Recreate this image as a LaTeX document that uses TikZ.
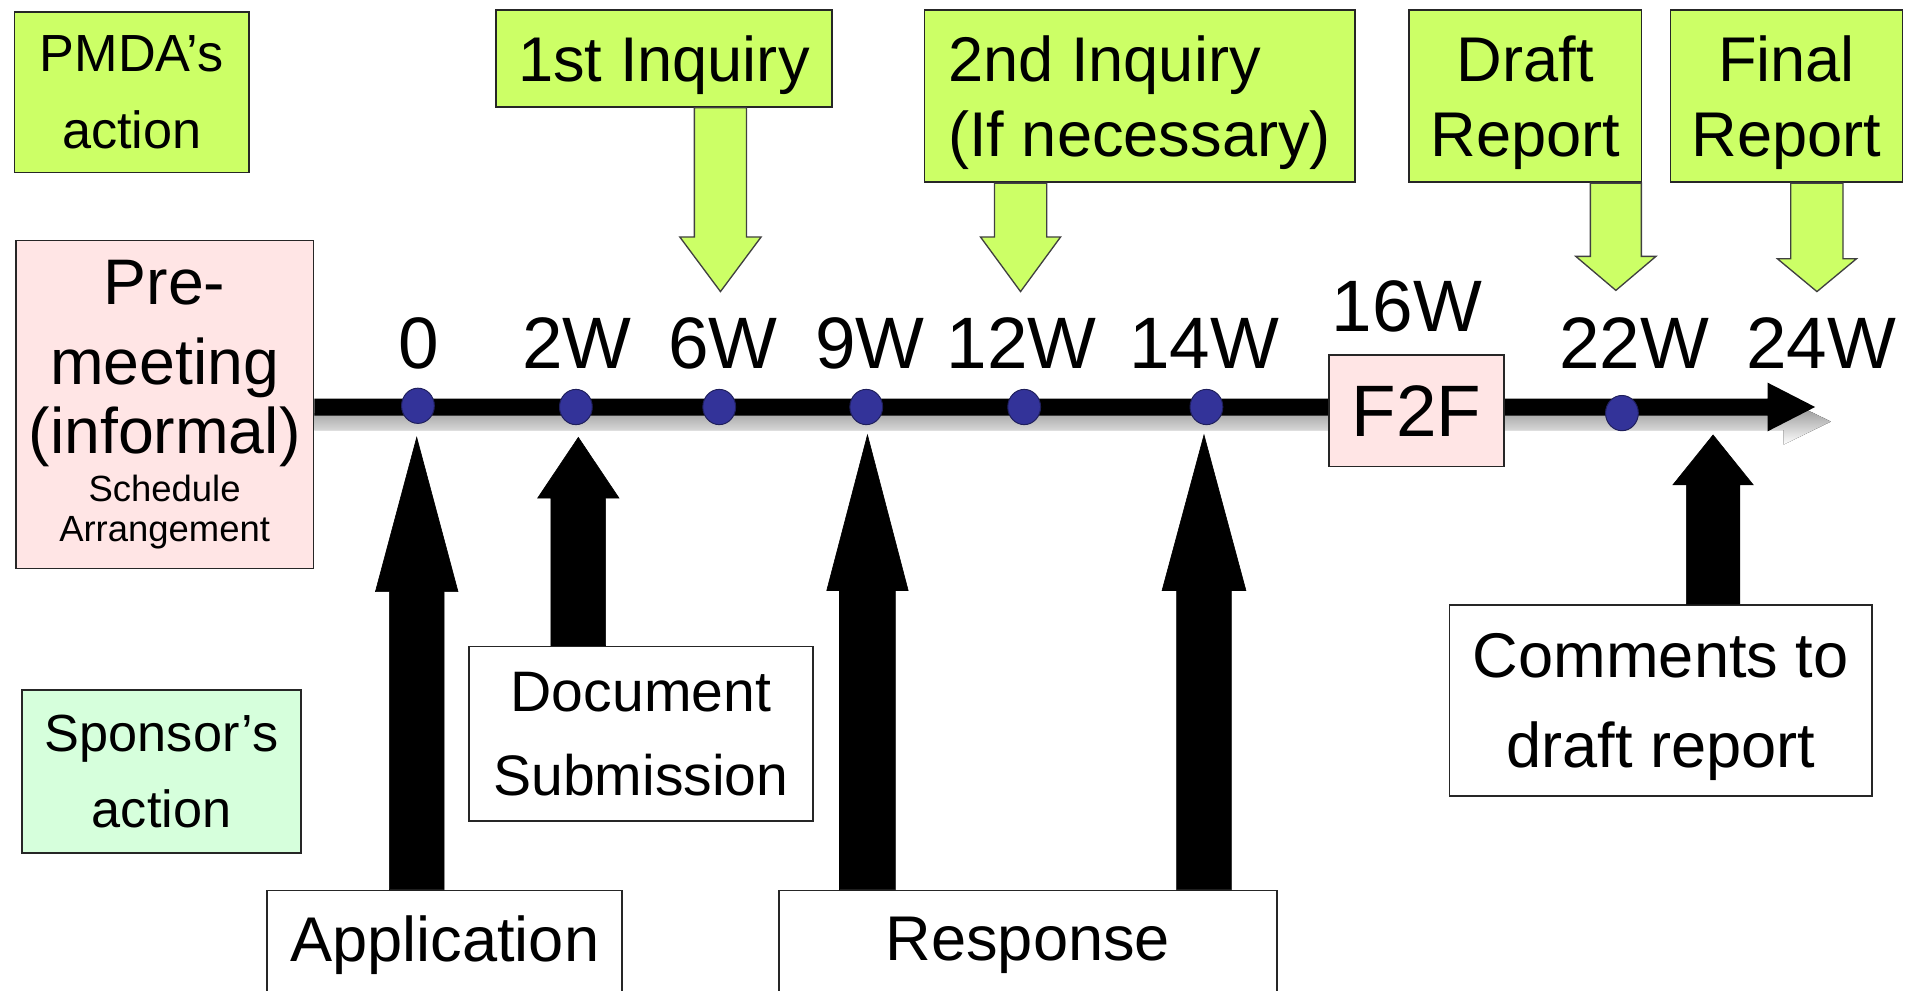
\documentclass[tikz,border=0pt]{standalone}
\usepackage{fontspec}
\setmainfont{Liberation Sans}
\usetikzlibrary{calc,shapes.geometric}

\definecolor{lime}{HTML}{CCFF66}
\definecolor{blush}{HTML}{FFE5E5}
\definecolor{mint}{HTML}{D6FFDC}
\definecolor{dotblue}{HTML}{333399}
\definecolor{shade}{HTML}{C4C4C4}

\newcommand\setfs[2]{\fontsize{#1}{#2}\selectfont}

% vertical block arrow: style, start point (gives y), tip point (gives x and y),
% signed head length, shaft half width, head half width
\newcommand\blockarrow[6]{%
  \draw[#1] let \p1=(#2), \p2=(#3) in
    (\x2-#5,\y1) -- (\x2-#5,\y2+#4) -- (\x2-#6,\y2+#4) -- (\x2,\y2)
    -- (\x2+#6,\y2+#4) -- (\x2+#5,\y2+#4) -- (\x2+#5,\y1) -- cycle;}

% horizontal block arrow: style, start point (gives x), tip point,
% head length, shaft half width, head half width
\newcommand\flatarrow[6]{%
  \fill[#1] let \p1=(#2), \p2=(#3) in
    (\x1,\y2+#5) -- (\x2-#4,\y2+#5) -- (\x2-#4,\y2+#6) -- (\x2,\y2)
    -- (\x2-#4,\y2-#6) -- (\x2-#4,\y2-#5) -- (\x1,\y2-#5) -- cycle;}

\begin{document}
\begin{tikzpicture}[x=1pt,y=-1pt,
  box/.style={draw=black!85, line width=1.4pt, inner sep=0pt, align=center},
  limebox/.style={box, fill=lime},
  pinkbox/.style={box, fill=blush},
  mintbox/.style={box, fill=mint},
  plainbox/.style={box, fill=white},
  flat/.style={text depth=0pt},
  greenarrow/.style={fill=lime, draw=black!75, line width=1.1pt, line join=miter},
  blackarrow/.style={fill=black, draw=black, line width=0.5pt, line join=miter},
  dot/.style={ellipse, fill=dotblue, draw=dotblue!60!black, line width=0.8pt,
    minimum width=27pt, minimum height=29pt, inner sep=0pt},
  tick/.style={anchor=base, inner sep=0pt, font=\setfs{60}{66}},
]
\clip (0,0) rectangle (1568,815);

% ---- boxes that carry the arrows' ends ----
\node[pinkbox, minimum width=245pt, minimum height=270pt, text width=245pt] (pre) at (135.5,333)
  {\vspace*{8pt}\setfs{53}{57.5}Pre-\\meeting\\(informal)\par\vspace{6pt}\setfs{30}{33}Schedule\\Arrangement\par};

% ---- time line with its shadow ----
\coordinate (tEnd) at (1494,335);
\coordinate (tStart) at (pre.east |- tEnd);
\coordinate (sEnd) at ([shift={(13pt,-12pt)}]tEnd);
\flatarrow{shade}{tStart}{sEnd}{39pt}{7pt}{19pt}
\flatarrow{black}{tStart}{tEnd}{39pt}{7pt}{20pt}

% ---- PMDA side ----
\node[limebox, minimum width=193pt, minimum height=132pt, font={\setfs{43}{63}}] (pmda) at (108.5,76) {PMDA’s\\action};
\node[limebox, flat, minimum width=277pt, minimum height=80pt, font={\setfs{52}{62}}] (inq1) at (546.5,48) {1st Inquiry};
\node[limebox, flat, minimum width=354pt, minimum height=142pt, font={\setfs{52}{62}}, align=left] (inq2) at (938,79) {2nd Inquiry\\(If necessary)};
\node[limebox, flat, minimum width=191pt, minimum height=142pt, font={\setfs{52}{62}}] (draft) at (1255.5,79) {Draft\\Report};
\node[limebox, flat, minimum width=191pt, minimum height=142pt, font={\setfs{52}{62}}] (final) at (1470.5,79) {Final\\Report};

\coordinate (tI1) at (593,240);
\coordinate (tI2) at (840,240);
\coordinate (tDr) at (1330,239);
\coordinate (tFi) at (1495.5,240);
\blockarrow{greenarrow}{inq1.south}{tI1}{45pt}{21.5pt}{33.5pt}
\blockarrow{greenarrow}{inq2.south}{tI2}{45pt}{21.5pt}{33pt}
\blockarrow{greenarrow}{draft.south}{tDr}{28pt}{21pt}{33pt}
\blockarrow{greenarrow}{final.south}{tFi}{27pt}{21.5pt}{32.5pt}

% ---- sponsor side ----
\node[mintbox, minimum width=230pt, minimum height=134pt, font={\setfs{43}{62}}] (sponsor) at (133,635) {Sponsor’s\\action};
\node[plainbox, minimum width=283pt, minimum height=144pt, font={\setfs{47}{69}}] (doc) at (527.5,604) {Document\\Submission};
\node[plainbox, minimum width=292pt, minimum height=90pt, font={\setfs{52}{62}}] (app) at (366,778) {Application};
\node[plainbox, minimum width=410pt, minimum height=90pt, font={\setfs{52}{62}}] (resp) at (846,778) {Response};
\node[plainbox, flat, minimum width=348pt, minimum height=157pt, font={\setfs{52}{74}}] (com) at (1367,576.5) {Comments to\\draft report};

\coordinate (tApp) at (343,360);
\coordinate (tDoc) at (476,360);
\coordinate (tR9) at (714,358);
\coordinate (tR14) at (991,358);
\coordinate (tCom) at (1410,358);
\blockarrow{blackarrow}{app.north}{tApp}{-127pt}{22.5pt}{34pt}
\blockarrow{blackarrow}{doc.north}{tDoc}{-50pt}{22.5pt}{33.5pt}
\blockarrow{blackarrow}{resp.north}{tR9}{-128pt}{23pt}{33.5pt}
\blockarrow{blackarrow}{resp.north}{tR14}{-128pt}{22.5pt}{34.5pt}
\blockarrow{blackarrow}{com.north}{tCom}{-41pt}{22pt}{33pt}

% ---- face-to-face meeting ----
\node[pinkbox, minimum width=144pt, minimum height=92pt, font={\setfs{60}{66}}] (f2f) at (1166,338) {F2F};

% ---- milestones ----
\node[dot] (d0) at (344,334) {};
\node[dot] (d2) at (474,335) {};
\node[dot] (d6) at (592,335) {};
\node[dot] (d9) at (713,335) {};
\node[dot] (d12) at (843,335) {};
\node[dot] (d14) at (993,335) {};
\node[dot] (d22) at (1335,340) {};

\node[tick] (l0) at (345,303) {0};
\node[tick] (l2) at (475,303) {2W};
\node[tick] (l6) at (595,303) {6W};
\node[tick] (l9) at (716,303) {9W};
\node[tick] (l12) at (841,303) {12W};
\node[tick] (l14) at (991,303) {14W};
\node[tick] (l16) at (1158,273) {16W};
\node[tick] (l22) at (1345,303) {22W};
\node[tick] (l24) at (1499,303) {24W};
\end{tikzpicture}
\end{document}
